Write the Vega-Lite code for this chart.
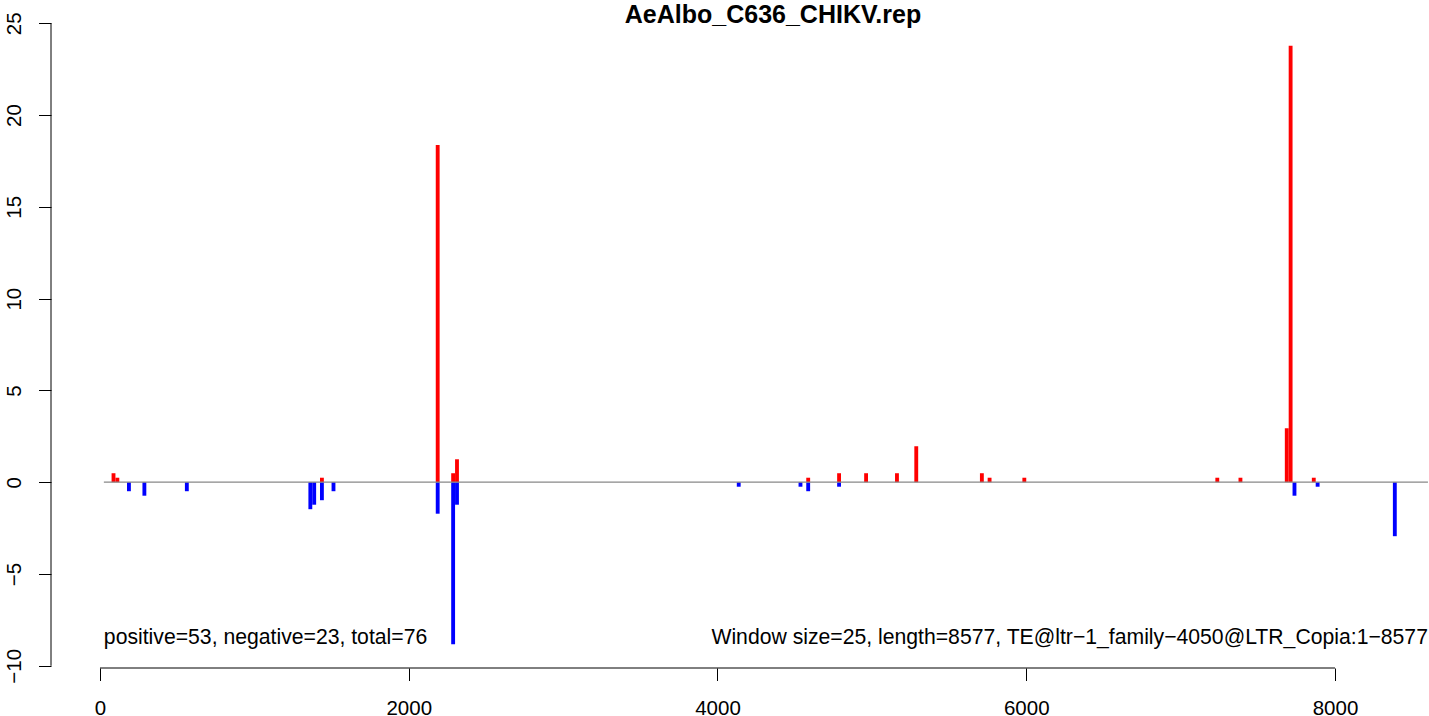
{
  "$schema": "https://vega.github.io/schema/vega-lite/v6.json",
  "width": 1378,
  "height": 646,
  "autosize": {"type": "none"},
  "padding": {"left": 51, "top": 22, "right": 0, "bottom": 48},
  "background": "white",
  "config": {
    "view": {"stroke": null},
    "font": "Liberation Sans",
    "axis": {
      "domain": false, "grid": false, "title": null,
      "tickSize": 12.5, "tickColor": "black", "tickWidth": 1,
      "labelFont": "Liberation Sans", "labelFontSize": 20.5, "labelColor": "black",
      "labelFlush": false, "labelOverlap": false
    }
  },
  "title": {
    "text": "AeAlbo_C636_CHIKV.rep",
    "font": "Liberation Sans",
    "fontSize": 25,
    "fontWeight": "bold",
    "color": "black",
    "anchor": "middle",
    "baseline": "alphabetic",
    "dx": 33,
    "offset": -36
  },
  "datasets": {
    "bins": [
      {"start": 75, "end": 100, "value": 0.49, "strand": "+"},
      {"start": 100, "end": 125, "value": 0.245, "strand": "+"},
      {"start": 1425, "end": 1450, "value": 0.245, "strand": "+"},
      {"start": 2175, "end": 2200, "value": 18.37, "strand": "+"},
      {"start": 2275, "end": 2300, "value": 0.49, "strand": "+"},
      {"start": 2300, "end": 2325, "value": 1.25, "strand": "+"},
      {"start": 4575, "end": 4600, "value": 0.245, "strand": "+"},
      {"start": 4775, "end": 4800, "value": 0.49, "strand": "+"},
      {"start": 4950, "end": 4975, "value": 0.49, "strand": "+"},
      {"start": 5150, "end": 5175, "value": 0.49, "strand": "+"},
      {"start": 5275, "end": 5300, "value": 1.96, "strand": "+"},
      {"start": 5700, "end": 5725, "value": 0.49, "strand": "+"},
      {"start": 5750, "end": 5775, "value": 0.245, "strand": "+"},
      {"start": 5975, "end": 6000, "value": 0.245, "strand": "+"},
      {"start": 7225, "end": 7250, "value": 0.245, "strand": "+"},
      {"start": 7375, "end": 7400, "value": 0.245, "strand": "+"},
      {"start": 7675, "end": 7700, "value": 2.94, "strand": "+"},
      {"start": 7700, "end": 7725, "value": 23.77, "strand": "+"},
      {"start": 7850, "end": 7875, "value": 0.245, "strand": "+"},
      {"start": 175, "end": 200, "value": -0.49, "strand": "-"},
      {"start": 275, "end": 300, "value": -0.735, "strand": "-"},
      {"start": 550, "end": 575, "value": -0.49, "strand": "-"},
      {"start": 1350, "end": 1375, "value": -1.47, "strand": "-"},
      {"start": 1375, "end": 1400, "value": -1.225, "strand": "-"},
      {"start": 1425, "end": 1450, "value": -0.98, "strand": "-"},
      {"start": 1500, "end": 1525, "value": -0.49, "strand": "-"},
      {"start": 2175, "end": 2200, "value": -1.715, "strand": "-"},
      {"start": 2275, "end": 2300, "value": -8.82, "strand": "-"},
      {"start": 2300, "end": 2325, "value": -1.225, "strand": "-"},
      {"start": 4125, "end": 4150, "value": -0.245, "strand": "-"},
      {"start": 4525, "end": 4550, "value": -0.245, "strand": "-"},
      {"start": 4575, "end": 4600, "value": -0.49, "strand": "-"},
      {"start": 4775, "end": 4800, "value": -0.245, "strand": "-"},
      {"start": 7725, "end": 7750, "value": -0.735, "strand": "-"},
      {"start": 7875, "end": 7900, "value": -0.245, "strand": "-"},
      {"start": 8375, "end": 8400, "value": -2.94, "strand": "-"}
    ]
  },
  "layer": [
    {
      "data": {"name": "bins"},
      "mark": {"type": "rect"},
      "encoding": {
        "x": {
          "field": "start", "type": "quantitative",
          "scale": {"domain": [-317.4, 8608.9], "nice": false, "zero": false},
          "axis": {
            "values": [0, 2000, 4000, 6000, 8000], "format": "d", "title": null,
            "labelPadding": 17.5
          }
        },
        "x2": {"field": "end"},
        "y": {
          "field": "value", "type": "quantitative",
          "scale": {"domain": [-10.12, 25.07], "nice": false, "zero": false},
          "axis": {
            "values": [-10, -5, 0, 5, 10, 15, 20, 25], "format": "d", "title": null,
            "labelAngle": 270, "labelAlign": "center", "labelBaseline": "alphabetic",
            "labelPadding": 18
          }
        },
        "y2": {"datum": 0},
        "color": {"field": "strand", "type": "nominal", "scale": {"domain": ["+", "-"], "range": ["#FF0000", "#0000FF"]}, "legend": null}
      }
    },
    {
      "data": {"values": [{}]},
      "mark": {"type": "rule", "color": "#888888", "strokeWidth": 1.3},
      "encoding": {
        "x": {"datum": 25, "type": "quantitative"},
        "x2": {"datum": 8602},
        "y": {"datum": 0, "type": "quantitative"}
      }
    },
    {
      "data": {"values": [{}]},
      "mark": {"type": "rule", "color": "black", "strokeWidth": 1},
      "encoding": {
        "x": {"datum": 0, "type": "quantitative"},
        "x2": {"datum": 8000},
        "y": {"datum": -10.12, "type": "quantitative"}
      }
    },
    {
      "data": {"values": [{}]},
      "mark": {"type": "rule", "color": "black", "strokeWidth": 1},
      "encoding": {
        "x": {"datum": -317.4, "type": "quantitative"},
        "y": {"datum": -10, "type": "quantitative"},
        "y2": {"datum": 25}
      }
    },
    {
      "data": {"values": [{}]},
      "mark": {"type": "text", "text": "positive=53, negative=23, total=76", "font": "Liberation Sans", "fontSize": 21.2, "align": "left", "baseline": "alphabetic", "color": "black"},
      "encoding": {
        "x": {"datum": 25, "type": "quantitative"},
        "y": {"datum": -8.82, "type": "quantitative"}
      }
    },
    {
      "data": {"values": [{}]},
      "mark": {"type": "text", "text": "Window size=25, length=8577, TE@ltr−1_family−4050@LTR_Copia:1−8577", "font": "Liberation Sans", "fontSize": 21.2, "align": "right", "baseline": "alphabetic", "color": "black"},
      "encoding": {
        "x": {"datum": 8602, "type": "quantitative"},
        "y": {"datum": -8.82, "type": "quantitative"}
      }
    }
  ]
}
